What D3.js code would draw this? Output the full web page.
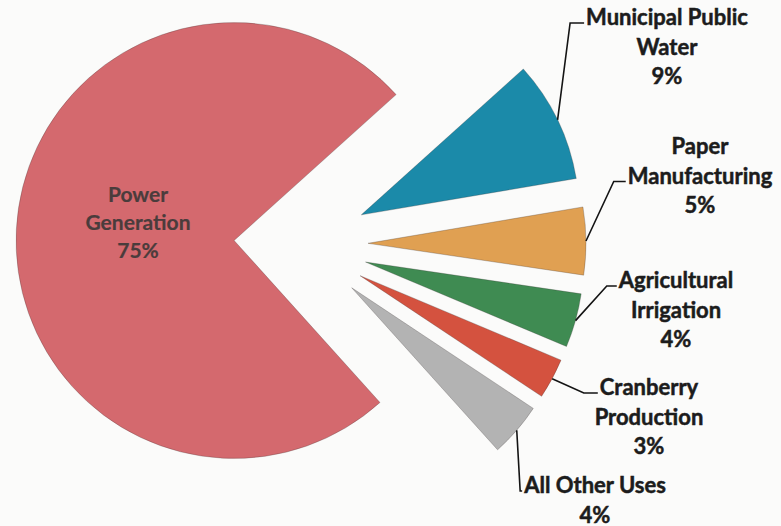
<!DOCTYPE html>
<html>
<head>
<meta charset="utf-8">
<script src="https://cdn.jsdelivr.net/npm/d3@7/dist/d3.min.js"></script>
<style>
  html, body { margin: 0; padding: 0; background: #fbfbfa; }
  svg { display: block; }
</style>
</head>
<body>
<svg id="chart" width="781" height="526"></svg>
<script>
// ---- data ----
const categories = ["Power Generation", "Municipal Public Water", "Paper Manufacturing",
                    "Agricultural Irrigation", "Cranberry Production", "All Other Uses"];
const values = [75, 9, 5, 4, 3, 4];
const labelLines = [["Power", "Generation"], ["Municipal Public", "Water"], ["Paper", "Manufacturing"],
                    ["Agricultural", "Irrigation"], ["Cranberry", "Production"], ["All Other Uses"]];
const colors = ["#d4696e", "#1b8aa9", "#e0a052", "#3f8b52", "#d4523f", "#b3b3b3"];

// ---- layout (styling, not data) ----
const W = 781, H = 526;
const center = { x: 301, y: 244 };
const radius = 218;
const explode = 67;
// label block: center x, first baseline y, stub length, which line the leader meets
const labelLayout = [
  { x: 138, y: 202, stub: 0, line: 0 },
  { x: 667, y: 25, stub: 14, line: 0 },
  { x: 700, y: 154, stub: 12, line: 1 },
  { x: 676, y: 288, stub: 10, line: 0 },
  { x: 649, y: 395, stub: 14, line: 0 },
  { x: 595, y: 493, stub: 2, line: 0 }
];
const lineHeight = 29.5;

const svg = d3.select("#chart");
const deg = Math.PI / 180;

const pie = d3.pie().sort(null).value(d => d)
  .startAngle(-222 * deg).endAngle(138 * deg);
const arcs = pie(values);
const arcGen = d3.arc().innerRadius(0).outerRadius(radius);

const g = svg.append("g").attr("transform", `translate(${center.x},${center.y})`);

function offset(a, r) { return [r * Math.sin(a), -r * Math.cos(a)]; }

arcs.forEach((d, i) => {
  const mid = (d.startAngle + d.endAngle) / 2;
  const [ox, oy] = offset(mid, explode);
  d.ox = ox; d.oy = oy; d.mid = mid;
  g.append("path")
    .attr("d", arcGen(d))
    .attr("transform", `translate(${ox},${oy})`)
    .attr("fill", colors[i])
    .attr("stroke", "rgba(60,50,50,0.35)")
    .attr("stroke-width", 0.8);
});

// labels
arcs.forEach((d, i) => {
  const L = labelLayout[i];
  const lines = labelLines[i].concat([values[i] + "%"]);
  const inside = i === 0;
  const fill = inside ? "#4a3c3c" : "#1c1c1c";
  const t = svg.append("text")
    .attr("text-anchor", "middle")
    .attr("font-family", "Lato, 'Open Sans', sans-serif")
    .attr("font-weight", "bold")
    .attr("font-size", inside ? 21 : 22)
    .attr("fill", fill)
    .attr("stroke", fill)
    .attr("stroke-width", inside ? 0.2 : 0.5);
  const lh = inside ? 28 : lineHeight;
  const spans = lines.map((s, k) =>
    t.append("tspan").attr("x", L.x).attr("y", L.y + k * lh).text(s));
  if (!inside) {
    const w = spans[L.line].node().getComputedTextLength();
    const left = L.x - w / 2 - 2;
    const yl = L.y + L.line * lh - 2;
    const [sx, sy] = offset(d.mid, radius);
    const start = [center.x + d.ox + sx, center.y + d.oy + sy];
    svg.append("path")
      .attr("d", d3.line()([start, [left - L.stub, yl], [left, yl]]))
      .attr("fill", "none")
      .attr("stroke", "#141414")
      .attr("stroke-width", 1.6);
  }
});
</script>
</body>
</html>
